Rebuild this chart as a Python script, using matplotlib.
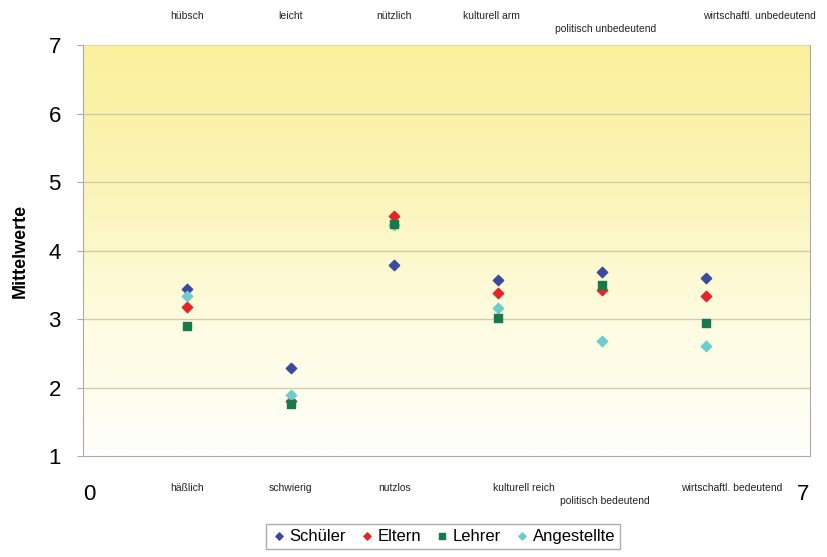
import numpy as np
import matplotlib.pyplot as plt
from matplotlib.colors import LinearSegmentedColormap

# Polaritätsprofil: Mittelwerte je Gruppe und Eigenschaftspaar
positions = [1, 2, 3, 4, 5, 6]
labels_low = ["häßlich", "schwierig", "nutzlos", "kulturell reich",
              "politisch bedeutend", "wirtschaftl. bedeutend"]
labels_high = ["hübsch", "leicht", "nützlich", "kulturell arm",
               "politisch unbedeutend", "wirtschaftl. unbedeutend"]

schueler = [3.44, 2.28, 3.79, 3.57, 3.69, 3.60]
eltern = [3.18, 1.80, 4.50, 3.38, 3.42, 3.33]
lehrer = [2.90, 1.76, 4.39, 3.01, 3.50, 2.94]
angestellte = [3.34, 1.89, 4.37, 3.16, 2.68, 2.61]

plt.rcParams['font.family'] = ['Liberation Sans', 'DejaVu Sans']

fig = plt.figure(figsize=(8.27, 5.57), dpi=100)
ax = fig.add_axes([0.1004, 0.1813, 0.8787, 0.7379])

# gelblicher Verlauf im Hintergrund
cmap = LinearSegmentedColormap.from_list(
    "bg", [(0.0, "#fffffb"), (0.33, "#fefce0"), (0.67, "#fbf4b6"), (1.0, "#faf09c")])
grad = np.linspace(0, 1, 256).reshape(-1, 1)
ax.imshow(grad, extent=[0, 7, 1, 7], origin="lower", aspect="auto",
          cmap=cmap, zorder=0)

for y in range(2, 7):
    ax.axhline(y, color="#d3ccaa", lw=1.0, zorder=1)
ax.axhline(7, color="#e2d3b0", lw=1.2, zorder=1)

ax.scatter(positions, schueler, marker="D", s=28, color="#3a4a9c", label="Schüler", zorder=3)
ax.scatter(positions, eltern, marker="D", s=28, color="#e3242b", label="Eltern", zorder=3)
ax.scatter(positions, lehrer, marker="s", s=28, color="#187a4c", label="Lehrer", zorder=4)
ax.scatter(positions, angestellte, marker="D", s=28, color="#6dcccc", label="Angestellte", zorder=3)

ax.set_xlim(0, 7)
ax.set_ylim(1, 7)
ax.set_yticks(range(1, 8))
ax.set_xticks([0, 7])
ax.tick_params(axis="y", labelsize=16, length=4, color="#aaaaaa", pad=12)
ax.tick_params(axis="x", labelsize=16, length=0, pad=20)
xl = ax.get_xticklabels()
xl[0].set_horizontalalignment("left")
xl[1].set_horizontalalignment("right")
ax.set_ylabel("Mittelwerte", fontsize=13, fontweight="bold", labelpad=14)

for side in ["left", "bottom", "right"]:
    ax.spines[side].set_color("#aaaaaa")
ax.spines["top"].set_visible(False)

# Eigenschaftspaare unter und über der Zeichenfläche
low_dx = [0.0, 0.0, 0.0, 0.25, 0.03, 0.25]
high_dx = [0.0, 0.0, 0.0, -0.07, 0.03, 0.52]
for i, (p, lo, hi) in enumerate(zip(positions, labels_low, labels_high)):
    dy = 0.19 if i == 4 else 0.0
    ax.text(p + low_dx[i], 0.53 - dy, lo, fontsize=7.5, ha="center", va="center", color="#222222")
    ax.text(p + high_dx[i], 7.42 - dy, hi, fontsize=7.5, ha="center", va="center", color="#222222")

leg = fig.legend(loc="lower center", bbox_to_anchor=(0.536, 0.0), ncol=4,
                 fontsize=12, frameon=True, fancybox=False, edgecolor="#999999",
                 handletextpad=0.2, columnspacing=0.8, borderpad=0.3,
                 handlelength=0.9, markerscale=0.7)

fig.savefig("out.png", dpi=100)
